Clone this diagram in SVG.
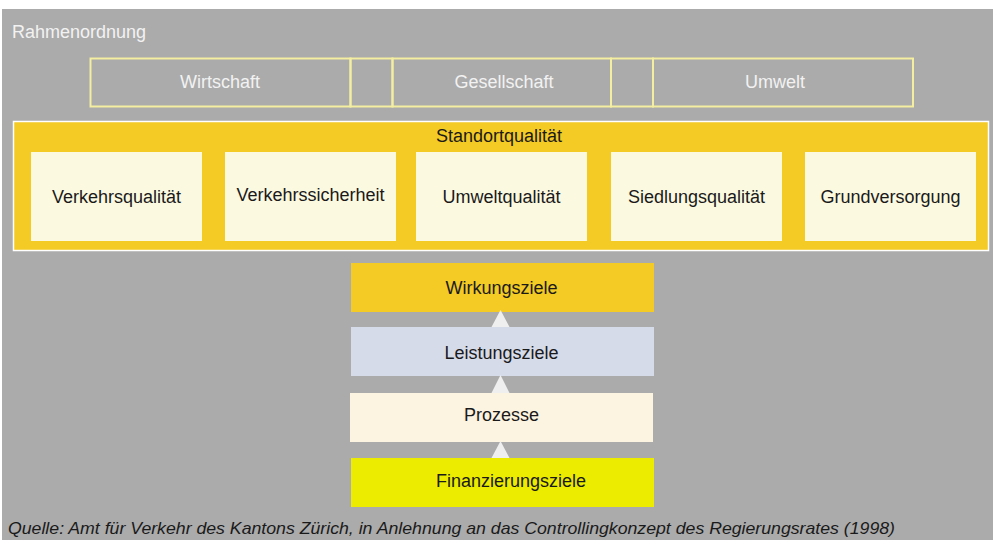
<svg xmlns="http://www.w3.org/2000/svg" width="993" height="540" viewBox="0 0 993 540">
<style>
.lbl{font-family:"Liberation Sans",Arial,sans-serif;font-size:18px;fill:#1a1a1a;text-anchor:middle}
.top{font-family:"Liberation Sans",Arial,sans-serif;font-size:18px;fill:#f2f2f2;text-anchor:middle}
.frame{fill:none;stroke:#f3eea0;stroke-width:2}
.q{fill:#fcf9e1}
.arr{fill:#efefef}
</style>
<rect x="0" y="0" width="993" height="540" fill="#ffffff"/>
<rect x="2" y="9" width="991" height="531" fill="#ababab"/>
<g id="rahmen">
<text x="12" y="38" font-family="Liberation Sans, Arial, sans-serif" font-size="18" fill="#f2f2f2">Rahmenordnung</text>
</g>
<g id="wirtschaft">
<rect class="frame" x="90.5" y="58.5" width="260" height="48"/>
<text class="top" x="220" y="87.5">Wirtschaft</text>
</g>
<g id="sep1"><rect class="frame" x="350.5" y="58.5" width="42" height="48"/></g>
<g id="gesellschaft">
<rect class="frame" x="392.5" y="58.5" width="218.5" height="48"/>
<text class="top" x="504" y="87.5">Gesellschaft</text>
</g>
<g id="sep2"><rect class="frame" x="611" y="58.5" width="42" height="48"/></g>
<g id="umwelt">
<rect class="frame" x="653" y="58.5" width="260" height="48"/>
<text class="top" x="775" y="87.5">Umwelt</text>
</g>
<g id="standortqualitaet">
<rect x="13.5" y="121.5" width="975" height="129" fill="#f4ca24" stroke="#ffffff" stroke-width="1.5"/>
<text class="lbl" x="499" y="141.5" font-size="18.5">Standortqualität</text>
</g>
<g id="verkehrsqualitaet">
<rect class="q" x="31" y="152" width="171" height="89"/>
<text class="lbl" x="116.5" y="202.5">Verkehrsqualität</text>
</g>
<g id="verkehrssicherheit">
<rect class="q" x="225" y="152" width="171" height="89"/>
<text class="lbl" x="310.5" y="201">Verkehrssicherheit</text>
</g>
<g id="umweltqualitaet">
<rect class="q" x="416" y="152" width="171" height="89"/>
<text class="lbl" x="501.5" y="202.5">Umweltqualität</text>
</g>
<g id="siedlungsqualitaet">
<rect class="q" x="611" y="152" width="171" height="89"/>
<text class="lbl" x="696.5" y="202.5">Siedlungsqualität</text>
</g>
<g id="grundversorgung">
<rect class="q" x="805" y="152" width="171" height="89"/>
<text class="lbl" x="890.5" y="202.5">Grundversorgung</text>
</g>
<g id="wirkungsziele">
<rect x="351" y="263" width="303" height="49" fill="#f4ca24"/>
<text class="lbl" x="501.5" y="293.5" font-size="17">Wirkungsziele</text>
</g>
<g id="leistungsziele">
<rect x="351" y="327" width="303" height="49" fill="#d6dbea"/>
<text class="lbl" x="501.5" y="359" font-size="17">Leistungsziele</text>
</g>
<g id="prozesse">
<rect x="350" y="393" width="303" height="49" fill="#fdf3e1"/>
<text class="lbl" x="501.5" y="421" font-size="17">Prozesse</text>
</g>
<g id="finanzierungsziele">
<rect x="351" y="458" width="303" height="49" fill="#ecec00"/>
<text class="lbl" x="511" y="487" font-size="17">Finanzierungsziele</text>
</g>
<g id="connectors">
<polygon class="arr" points="500.5,310 491.5,327 509.5,327"/>
<polygon class="arr" points="500.5,375 491.5,393 509.5,393"/>
<polygon class="arr" points="500.5,441 491.5,458 509.5,458"/>
</g>
<g id="caption">
<text x="8" y="534" font-family="Liberation Sans, Arial, sans-serif" font-size="17" font-style="italic" fill="#1a1a1a" textLength="887" lengthAdjust="spacingAndGlyphs">Quelle: Amt für Verkehr des Kantons Zürich, in Anlehnung an das Controllingkonzept des Regierungsrates (1998)</text>
</g>
</svg>
